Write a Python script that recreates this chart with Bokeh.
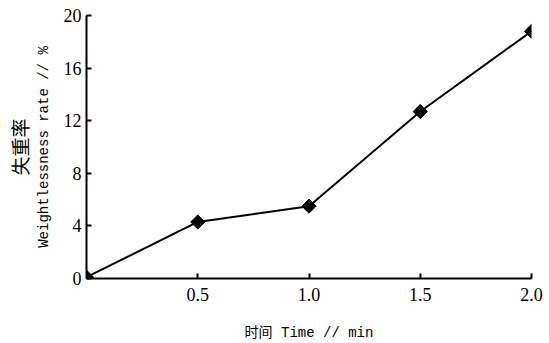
import math
from bokeh.plotting import figure
from bokeh.models import Range1d, FixedTicker, Title
from bokeh.embed import file_html
from bokeh.resources import INLINE

# Weight loss over time
time_min = [0.0, 0.5, 1.0, 1.5, 2.0]
weightlessness = [0.1, 4.3, 5.5, 12.7, 18.8]

x_ticks = [0.5, 1.0, 1.5, 2.0]
x_tick_labels = ["0.5", "1.0", "1.5", "2.0"]
y_ticks = [0, 4, 8, 12, 16, 20]

TICK_FONT = "'Liberation Serif', serif"
LABEL_FONT = "'Liberation Mono', 'Noto Sans CJK SC', monospace"
CJK_FONT = "'Noto Sans CJK SC', sans-serif"

p = figure(width=549, height=343, output_backend="svg", toolbar_location=None,
           x_range=Range1d(0, 2.0), y_range=Range1d(0, 20),
           min_border_left=86, min_border_right=18,
           min_border_top=15, min_border_bottom=65)

p.outline_line_color = None
p.background_fill_color = "white"
p.border_fill_color = "white"
p.xgrid.visible = False
p.ygrid.visible = False

p.line(time_min, weightlessness, line_color="black", line_width=2)
p.scatter(time_min, weightlessness, marker="square", size=10, angle=math.pi / 4,
          fill_color="black", line_color="black")

p.xaxis.ticker = FixedTicker(ticks=x_ticks)
p.xaxis.major_label_overrides = {t: s for t, s in zip(x_ticks, x_tick_labels)}
p.yaxis.ticker = FixedTicker(ticks=y_ticks)

for ax in (p.xaxis[0], p.yaxis[0]):
    ax.axis_line_color = "black"
    ax.axis_line_width = 2
    ax.major_tick_line_color = "black"
    ax.major_tick_line_width = 2
    ax.major_tick_in = 5
    ax.major_tick_out = 0
    ax.minor_tick_line_color = None
    ax.major_label_text_font = TICK_FONT
    ax.major_label_text_font_size = "18px"
    ax.major_label_text_color = "black"
    ax.axis_label_text_font = LABEL_FONT
    ax.axis_label_text_font_size = "14px"
    ax.axis_label_text_font_style = "normal"
    ax.axis_label_text_color = "black"

p.xaxis.axis_label = "时间 Time // min"
p.xaxis.major_label_standoff = 9
p.xaxis.axis_label_standoff = 21
p.yaxis.axis_label = "Weightlessness rate // %"
p.yaxis.major_label_standoff = 5
p.yaxis.axis_label_standoff = 9

# Chinese caption for the y axis, stacked outside the English label
cn_title = Title(text="失重率", align="center", text_font=CJK_FONT,
                 text_font_size="19px", text_font_style="normal",
                 text_color="black", offset=0, standoff=0)
p.add_layout(cn_title, "left")

open("out.html", "w").write(file_html(p, INLINE))
